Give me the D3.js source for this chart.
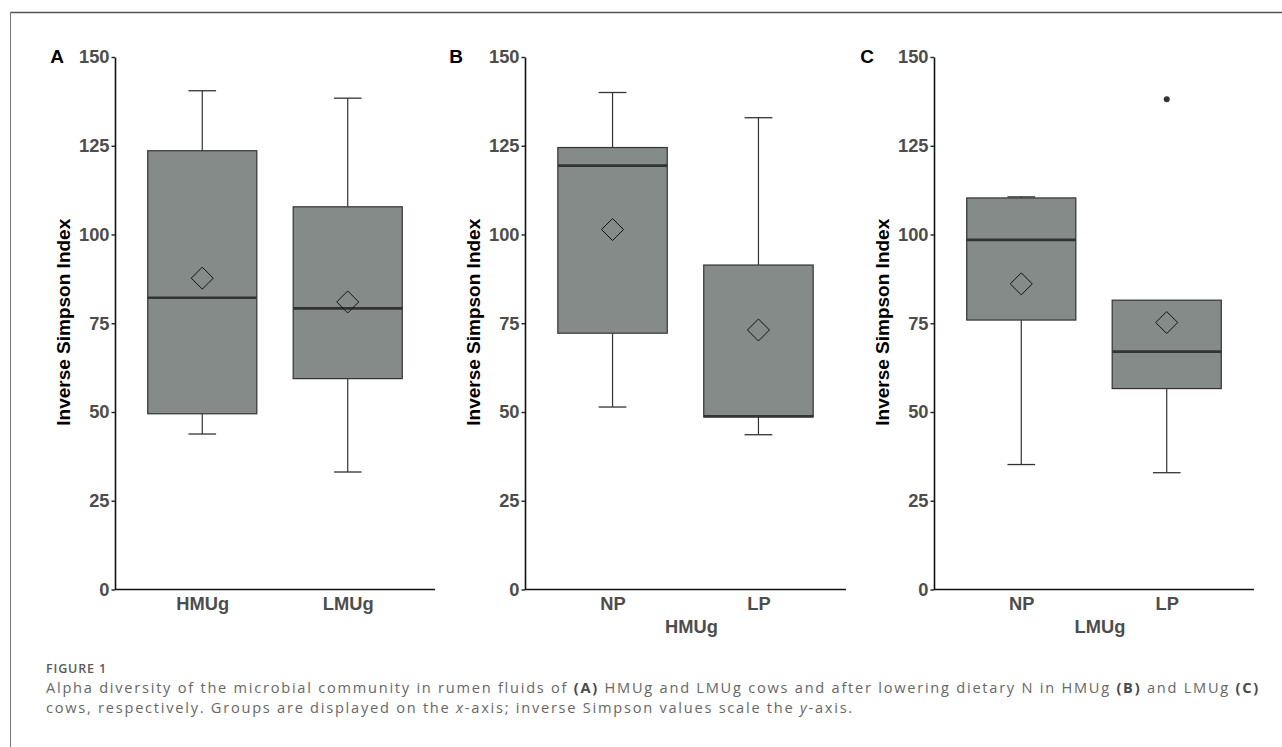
<!DOCTYPE html>
<html>
<head>
<meta charset="utf-8">
<script src="https://cdn.jsdelivr.net/npm/d3@7"></script>
<style>
  html, body { margin: 0; padding: 0; background: #fff; }
  svg { display: block; }
</style>
</head>
<body>
<svg id="chart" width="1282" height="747"></svg>
<script>
// ---------- DATA ----------
const yTicks = [0, 25, 50, 75, 100, 125, 150];

const groupsA = ["HMUg", "LMUg"];
const lowA    = [43.8, 33.1];
const q1A     = [49.5, 59.4];
const medA    = [82.2, 79.2];
const q3A     = [123.6, 107.8];
const highA   = [140.5, 138.4];
const meanA   = [87.7, 81.0];
const outA    = [[], []];

const groupsB = ["NP", "LP"];
const lowB    = [51.4, 43.6];
const q1B     = [72.2, 48.6];
const medB    = [119.4, 48.8];
const q3B     = [124.5, 91.4];
const highB   = [140.0, 132.9];
const meanB   = [101.4, 73.1];
const outB    = [[], []];

const groupsC = ["NP", "LP"];
const lowC    = [35.2, 32.9];
const q1C     = [75.9, 56.6];
const medC    = [98.5, 67.0];
const q3C     = [110.3, 81.5];
const highC   = [110.6, 81.5];
const meanC   = [86.1, 75.2];
const outC    = [[], [138.1]];

const panelLabels = ["A", "B", "C"];
const xTitles = ["", "HMUg", "LMUg"];
const yTitle = "Inverse Simpson Index";

// ---------- LAYOUT ----------
const svg = d3.select("#chart");
const yTop = 57, yBottom = 589.5;
const panels = [
  { x0: 115, x1: 435, label: panelLabels[0], xt: xTitles[0], g: groupsA, lo: lowA, q1: q1A, md: medA, q3: q3A, hi: highA, mn: meanA, out: outA, labelX: 57, titleX: 70 },
  { x0: 525, x1: 846, label: panelLabels[1], xt: xTitles[1], g: groupsB, lo: lowB, q1: q1B, md: medB, q3: q3B, hi: highB, mn: meanB, out: outB, labelX: 456, titleX: 480 },
  { x0: 934, x1: 1254, label: panelLabels[2], xt: xTitles[2], g: groupsC, lo: lowC, q1: q1C, md: medC, q3: q3C, hi: highC, mn: meanC, out: outC, labelX: 867, titleX: 889 }
];

const boxFill = "#858b89";
const dark = "#333333";
const tickGrey = "#4d4d4d";
const fontChart = "'Liberation Sans', Arial, Helvetica, sans-serif";
const tickFs = 18.3;

// outer frame (top and left rules)
svg.append("line").attr("x1", 10).attr("x2", 1282).attr("y1", 12.5).attr("y2", 12.5)
  .attr("stroke", "#555").attr("stroke-width", 1.3);
svg.append("line").attr("x1", 10.5).attr("x2", 10.5).attr("y1", 12).attr("y2", 747)
  .attr("stroke", "#777").attr("stroke-width", 1);

const y = d3.scaleLinear().domain([0, 150]).range([yBottom, yTop]);

panels.forEach(p => {
  const g = svg.append("g");
  // ggplot-like discrete scale: 0.6 unit expansion each side
  const n = p.g.length;
  const unit = (p.x1 - p.x0) / (n - 1 + 1.2);
  const x = d3.scalePoint().domain(p.g).range([p.x0 + 0.6 * unit, p.x1 - 0.6 * unit]);
  const bw = 0.75 * unit;
  const capW = 0.19 * unit;

  p.g.forEach((cat, i) => {
    const cx = x(cat);
    // whiskers
    g.append("line").attr("x1", cx).attr("x2", cx).attr("y1", y(p.q3[i])).attr("y2", y(p.hi[i]))
      .attr("stroke", dark).attr("stroke-width", 1.2);
    g.append("line").attr("x1", cx).attr("x2", cx).attr("y1", y(p.q1[i])).attr("y2", y(p.lo[i]))
      .attr("stroke", dark).attr("stroke-width", 1.2);
    // caps
    if (p.hi[i] > p.q3[i] + 0.01) {
      g.append("line").attr("x1", cx - capW / 2).attr("x2", cx + capW / 2)
        .attr("y1", y(p.hi[i])).attr("y2", y(p.hi[i])).attr("stroke", dark).attr("stroke-width", 1.3);
    }
    if (p.lo[i] < p.q1[i] - 0.01) {
      g.append("line").attr("x1", cx - capW / 2).attr("x2", cx + capW / 2)
        .attr("y1", y(p.lo[i])).attr("y2", y(p.lo[i])).attr("stroke", dark).attr("stroke-width", 1.3);
    }
    // box
    g.append("rect").attr("x", cx - bw / 2).attr("width", bw)
      .attr("y", y(p.q3[i])).attr("height", y(p.q1[i]) - y(p.q3[i]))
      .attr("fill", boxFill).attr("stroke", dark).attr("stroke-width", 1.2);
    // median
    g.append("line").attr("x1", cx - bw / 2).attr("x2", cx + bw / 2)
      .attr("y1", y(p.md[i])).attr("y2", y(p.md[i]))
      .attr("stroke", dark).attr("stroke-width", 2.6);
    // mean diamond
    const s = 11;
    const my = y(p.mn[i]);
    g.append("path")
      .attr("d", `M${cx},${my - s}L${cx + s},${my}L${cx},${my + s}L${cx - s},${my}Z`)
      .attr("fill", "none").attr("stroke", "#111").attr("stroke-width", 1);
    // outliers
    p.out[i].forEach(v => {
      g.append("circle").attr("cx", cx).attr("cy", y(v)).attr("r", 3).attr("fill", dark);
    });
  });

  // y axis
  const yAxis = d3.axisLeft(y).tickValues(yTicks).tickSize(3.5).tickSizeOuter(0).tickPadding(2);
  const ya = g.append("g").attr("transform", `translate(${p.x0},0)`).call(yAxis);
  ya.select(".domain").attr("stroke", "#111").attr("stroke-width", 1.6);
  ya.selectAll(".tick line").attr("stroke", "#222").attr("stroke-width", 1.4);
  ya.selectAll(".tick text").attr("fill", tickGrey).attr("font-family", fontChart)
    .attr("font-weight", "bold").attr("font-size", tickFs);

  // x axis
  const xAxis = d3.axisBottom(x).tickSize(0).tickPadding(7.5);
  const xa = g.append("g").attr("transform", `translate(0,${yBottom})`).call(xAxis);
  xa.select(".domain").attr("d", `M${p.x0},0H${p.x1}`).attr("stroke", "#111").attr("stroke-width", 1.6);
  xa.selectAll(".tick text").attr("fill", tickGrey).attr("font-family", fontChart)
    .attr("font-weight", "bold").attr("font-size", tickFs);

  // x title
  if (p.xt) {
    g.append("text").attr("x", (p.x0 + p.x1) / 2 + 6).attr("y", 633)
      .attr("text-anchor", "middle").attr("fill", tickGrey).attr("font-family", fontChart)
      .attr("font-weight", "bold").attr("font-size", tickFs).text(p.xt);
  }

  // y title
  g.append("text").attr("transform", `translate(${p.titleX},${(yTop + yBottom) / 2 - 1}) rotate(-90)`)
    .attr("text-anchor", "middle").attr("fill", "#000").attr("font-family", fontChart)
    .attr("font-weight", "bold").attr("font-size", 19).text(yTitle);

  // panel label
  g.append("text").attr("x", p.labelX).attr("y", 62.5).attr("text-anchor", "middle")
    .attr("fill", "#000").attr("font-family", fontChart).attr("font-weight", "bold")
    .attr("font-size", 19).text(p.label);
});

// ---------- CAPTION ----------
const capFont = "'Open Sans', 'Noto Sans', sans-serif";
const figLab = svg.append("text").attr("x", 46).attr("y", 673).attr("fill", "#5a5a5a")
  .attr("font-family", capFont).attr("font-weight", "600").attr("font-size", 12.5).text("FIGURE 1");
{
  const w = figLab.node().getComputedTextLength();
  figLab.attr("letter-spacing", Math.max(0, (61 - w) / 8));
}

const line1 = [
  ["Alpha diversity of the microbial community in rumen fluids of ", false],
  ["(A)", true],
  [" HMUg and LMUg cows and after lowering dietary N in HMUg ", false],
  ["(B)", true],
  [" and LMUg ", false],
  ["(C)", true]
];
const line2 = [
  ["cows, respectively. Groups are displayed on the ", false],
  ["x", "i"],
  ["-axis; inverse Simpson values scale the ", false],
  ["y", "i"],
  ["-axis.", false]
];
const capFs = 14.6;
function addLine(parts, yPos) {
  const t = svg.append("text").attr("x", 46).attr("y", yPos).attr("fill", "#676767")
    .attr("font-family", capFont).attr("font-size", capFs);
  parts.forEach(([s, b]) => {
    const ts = t.append("tspan").text(s);
    if (b === true) ts.attr("font-weight", "bold").attr("fill", "#4a4a4a");
    if (b === "i") ts.attr("font-style", "italic");
  });
  return t;
}
const t1 = addLine(line1, 693);
const t2 = addLine(line2, 713);
// spread letters slightly so the first line spans the reference width
const targetW = 1214;
const w1 = t1.node().getComputedTextLength();
const nChars = line1.map(d => d[0]).join("").length;
const ls = Math.max(0, (targetW - w1) / nChars);
t1.attr("letter-spacing", ls);
t2.attr("letter-spacing", ls);
</script>
</body>
</html>
